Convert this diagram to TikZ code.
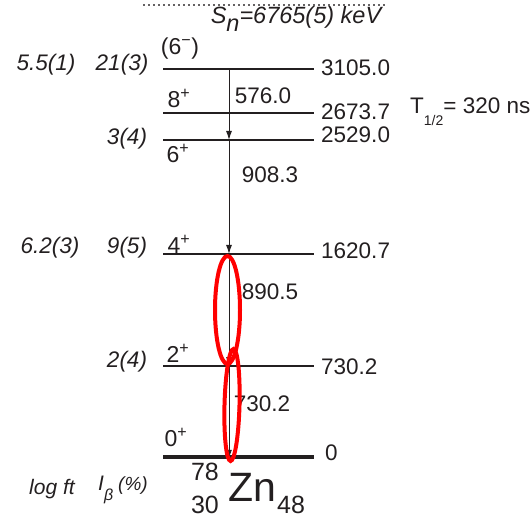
\documentclass[tikz,border=0pt]{standalone}
\usepackage{fontspec}
\setmainfont{Liberation Sans}
\usetikzlibrary{arrows.meta}
\definecolor{ink}{HTML}{231F20}
\definecolor{hl}{HTML}{FF0000}
\begin{document}
\begin{tikzpicture}[x=1pt,y=-1pt,
  lvl/.style={draw=ink,line width=1.4pt},
  gnd/.style={draw=ink,line width=3.8pt},
  trans/.style={draw=ink,line width=1pt,-{Latex[length=9pt,width=6pt]}},
  lab/.style={inner sep=0pt,text=ink,font=\fontsize{22.5}{22.5}\selectfont},
  slab/.style={inner sep=0pt,text=ink,font=\fontsize{23}{23}\selectfont},
  ilab/.style={lab,font=\fontsize{22.5}{22.5}\selectfont\itshape},
  elab/.style={lab,anchor=west},
  ring/.style={draw=hl,line width=4pt},
  sep/.style={draw=ink!70,line width=1.2pt,dash pattern=on 1.6pt off 3.4pt}]
\useasboundingbox (0,0) rectangle (532,518);
% separation energy
\coordinate (sepA) at (143,5);
\coordinate (sepB) at (385,5);
\draw[sep] (sepA) -- (sepB);
\node[ilab,font=\fontsize{23.5}{23.5}\selectfont\itshape] (sn) at (296,19) {S\raisebox{-0.35em}{n}=6765(5) keV};
% levels
\foreach \n/\y in {l3105/69,l2673/113,l2529/140,l1620/254,l730/366}{
  \coordinate (\n a) at (163,\y);
  \coordinate (\n b) at (314,\y);
  \coordinate (\n t) at (229,\y);
  \draw[lvl] (\n a) -- (\n b);
}
\coordinate (l0a) at (163,457);
\coordinate (l0b) at (314,457);
\coordinate (l0t) at (229,457);
\draw[gnd] (l0a) -- (l0b);
% transitions
\draw[trans] (l3105t) -- (l2529t);
\draw[trans] (l2529t) -- (l1620t);
\draw[trans] (l1620t) -- (l730t);
\draw[trans] (l730t) -- ([yshift=-1.8pt]l0t);
% energies
\node[elab] (e3105) at (321,68) {3105.0};
\node[elab] (e2673) at (321,112) {2673.7};
\node[elab] (e2529) at (321,135) {2529.0};
\node[elab] (e1620) at (321,251) {1620.7};
\node[elab] (e730) at (321,367) {730.2};
\node[elab] (e0) at (325,453) {0};
\node[elab] (thalf) at (410,112) {T\raisebox{-0.55em}{\fontsize{14}{14}\selectfont 1/2}= 320 ns};
% spins
\node[slab] (s3105) at (180,49) {(6\textsuperscript{−})};
\node[slab] (s2673) at (179,98) {8\textsuperscript{+}};
\node[slab] (s2529) at (178,153) {6\textsuperscript{+}};
\node[slab] (s1620) at (179,244) {4\textsuperscript{+}};
\node[slab] (s730) at (178,353) {2\textsuperscript{+}};
\node[slab] (s0) at (176,437) {0\textsuperscript{+}};
% gamma energies
\node[lab] (g576) at (263,96) {576.0};
\node[lab] (g908) at (270,175) {908.3};
\node[lab] (g890) at (270,292) {890.5};
\node[lab] (g730) at (262,404) {730.2};
% log ft and intensities
\node[ilab] (f3105) at (46,65) {5.5(1)};
\node[ilab] (i3105) at (122,65) {21(3)};
\node[ilab] (i2529) at (127,139) {3(4)};
\node[ilab] (f1620) at (50,248) {6.2(3)};
\node[ilab] (i1620) at (127,248) {9(5)};
\node[ilab] (i730) at (127,362) {2(4)};
% bottom labels
\node[ilab,font=\fontsize{21}{21}\selectfont\itshape] (hft) at (52,489) {log ft};
\node[ilab,anchor=west,font=\fontsize{21}{21}\selectfont\itshape] (hib) at (98,490) {I\raisebox{-0.45em}{\fontsize{16}{16}\selectfont β}\hspace{5pt}{\fontsize{19}{19}\selectfont(\%)}};
\node[lab,font=\fontsize{25}{25}\selectfont] (mass) at (205,472) {78};
\node[lab,font=\fontsize{25}{25}\selectfont] (zz) at (205,505) {30};
\node[lab,font=\fontsize{41}{41}\selectfont] (zn) at (252,487) {Zn};
\node[lab,font=\fontsize{25}{25}\selectfont] (nn) at (291,505) {48};
% highlight ellipses
\draw[ring] (227.5,310) ellipse [x radius=12.5, y radius=54];
\draw[ring,rotate around={-1.5:(232,405)}] (232,405) ellipse [x radius=7.5, y radius=56];
\end{tikzpicture}
\end{document}
